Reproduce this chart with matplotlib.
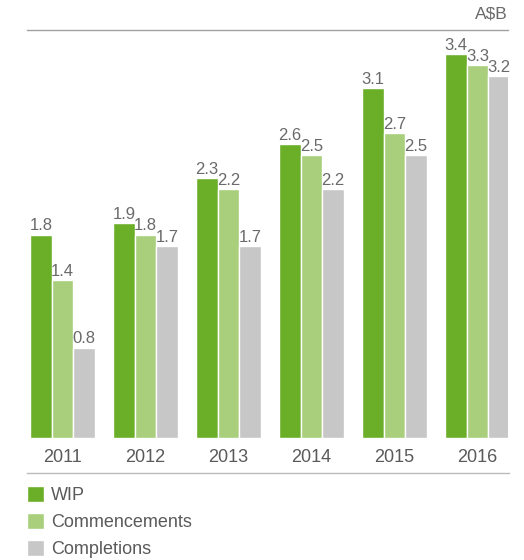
import matplotlib.pyplot as plt
import numpy as np

years = ["2011", "2012", "2013", "2014", "2015", "2016"]
wip = [1.8, 1.9, 2.3, 2.6, 3.1, 3.4]
commencements = [1.4, 1.8, 2.2, 2.5, 2.7, 3.3]
completions = [0.8, 1.7, 1.7, 2.2, 2.5, 3.2]
series_names = ["WIP", "Commencements", "Completions"]
unit_label = "A$B"

plt.rcParams["font.family"] = ["Liberation Sans", "DejaVu Sans"]

colors = ["#6BAE27", "#A9CF7C", "#C7C7C7"]
text_color = "#6A6A6A"
rule_color = "#A0A0A0"

W, H = 524, 560
fig = plt.figure(figsize=(W / 100, H / 100), dpi=100)
fig.patch.set_facecolor("white")

# axes box in pixels: left 27, right 508, baseline 438, top rule 30
ax = fig.add_axes([27 / W, (H - 438) / H, (508 - 27) / W, (438 - 30) / H])

x = np.arange(len(years))
width = 0.26
handles = []
for i, (vals, name) in enumerate(zip([wip, commencements, completions], series_names)):
    pos = x + (i - 1) * width
    bars = ax.bar(pos, vals, width=width, color=colors[i], edgecolor="white",
                  linewidth=1.0, label=name)
    handles.append(bars)
    for xp, v in zip(pos, vals):
        ax.text(xp, v + 0.01, f"{v:.1f}", ha="center", va="bottom",
                fontsize=12, color=text_color)

ax.set_xlim(-0.43, 5.37)
ax.set_ylim(0, 3.61)
ax.set_yticks([])
ax.set_xticks(x)
ax.set_xticklabels(years, fontsize=13, color="#5A5A5A")
ax.tick_params(axis="x", length=0, pad=8)
for side in ["left", "right", "bottom"]:
    ax.spines[side].set_visible(False)
ax.spines["top"].set_color(rule_color)
ax.spines["top"].set_linewidth(1.0)

# rule under the year labels
ax.plot([0, 1.002], [-0.085, -0.085], transform=ax.transAxes, color="#BBBBBB",
        linewidth=1.0, clip_on=False)

ax.text(1.0, 1.022, unit_label, transform=ax.transAxes, ha="right", va="bottom",
        fontsize=12.5, color=text_color)

leg = fig.legend(handles=handles, labels=series_names, loc="upper left",
                 bbox_to_anchor=(27 / W, 1 - 486 / H), frameon=False,
                 fontsize=13, handlelength=0.95, handleheight=0.95,
                 handletextpad=0.4, labelspacing=0.5, borderpad=0.0,
                 borderaxespad=0.0)
for t in leg.get_texts():
    t.set_color("#5A5A5A")

fig.savefig("out.png", dpi=100)
